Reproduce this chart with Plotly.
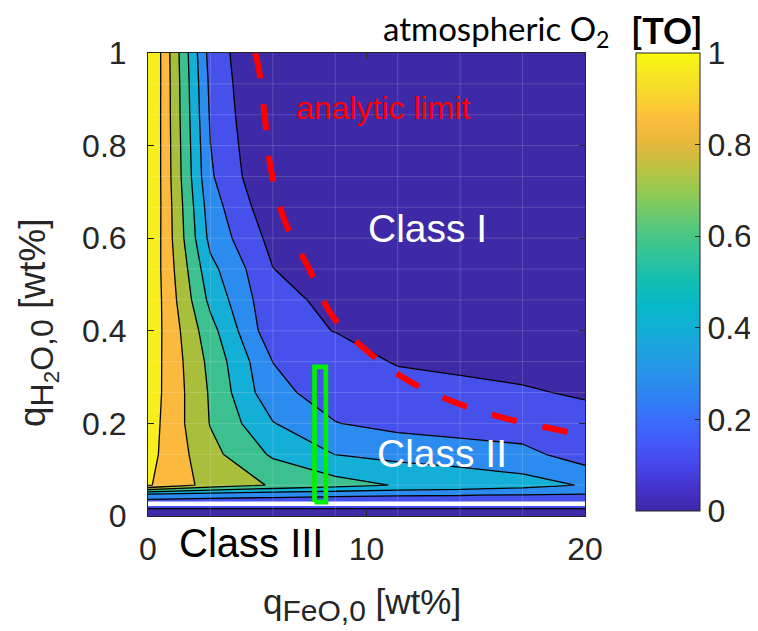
import plotly.graph_objects as go

# ---------------- data ----------------
x_feo = [0, 2.857, 5.714, 8.571, 11.429, 14.286, 17.143, 20]
y_h2o = [0, 0.027, 0.045, 0.0667, 0.1333, 0.2, 0.2667, 0.3333, 0.4, 0.4667,
         0.5333, 0.6, 0.6667, 0.7333, 0.8, 0.8667, 0.9333, 1.0]

o2_y000 = [0.08, 0.08, 0.08, 0.08, 0.08, 0.08, 0.08, 0.08]
o2_y027 = [0.20, 0.20, 0.20, 0.20, 0.20, 0.20, 0.20, 0.20]
o2_y045 = [0.30, 0.28, 0.27, 0.26, 0.255, 0.252, 0.245, 0.24]
o2_y067 = [0.76, 0.614, 0.541, 0.49, 0.443, 0.42, 0.39, 0.342]
o2_y133 = [0.784, 0.58, 0.435, 0.348, 0.32, 0.30, 0.28, 0.199]
o2_y200 = [0.799, 0.545, 0.355, 0.253, 0.22, 0.205, 0.19, 0.185]
o2_y267 = [0.809, 0.538, 0.276, 0.208, 0.19, 0.175, 0.16, 0.139]
o2_y333 = [0.814, 0.522, 0.249, 0.19, 0.143, 0.13, 0.12, 0.11]
o2_y400 = [0.825, 0.487, 0.178, 0.148, 0.12, 0.09, 0.07, 0.06]
o2_y467 = [0.840, 0.424, 0.170, 0.1335, 0.08, 0.05, 0.04, 0.03]
o2_y533 = [0.845, 0.380, 0.152, 0.07, 0.04, 0.03, 0.025, 0.02]
o2_y600 = [0.860, 0.320, 0.118, 0.045, 0.025, 0.02, 0.017, 0.015]
o2_y667 = [0.868, 0.296, 0.076, 0.03, 0.02, 0.016, 0.014, 0.012]
o2_y733 = [0.874, 0.263, 0.041, 0.022, 0.016, 0.013, 0.012, 0.011]
o2_y800 = [0.877, 0.251, 0.028, 0.018, 0.014, 0.012, 0.011, 0.010]
o2_y867 = [0.880, 0.237, 0.020, 0.016, 0.013, 0.011, 0.010, 0.010]
o2_y933 = [0.884, 0.226, 0.015, 0.015, 0.012, 0.010, 0.010, 0.010]
o2_y1000 = [0.888, 0.208, 0.022, 0.015, 0.012, 0.010, 0.010, 0.010]

o2_grid = [o2_y000, o2_y027, o2_y045, o2_y067, o2_y133, o2_y200, o2_y267,
           o2_y333, o2_y400, o2_y467, o2_y533, o2_y600, o2_y667, o2_y733,
           o2_y800, o2_y867, o2_y933, o2_y1000]

# analytic limit curve
limit_x = [4.90, 5.05, 5.35, 5.61, 6.27, 7.39, 8.44, 10.16, 12.15, 14.35, 16.64, 19.06, 19.63]
limit_y = [1.0, 0.972, 0.860, 0.752, 0.636, 0.532, 0.432, 0.351, 0.286, 0.240, 0.2075, 0.183, 0.175]

# green box (selected range)
box_x = [7.62, 8.14, 8.14, 7.62, 7.62]
box_y = [0.03, 0.03, 0.322, 0.322, 0.03]

# white line near the bottom
gap_x = [0, 20]
gap_y = [0.0264, 0.0264]

x_ticks = [0, 10, 20]
y_ticks = [0, 0.2, 0.4, 0.6, 0.8, 1]
y_ticktext = ["0", "0.2", "0.4", "0.6", "0.8", "1"]
cb_ticks = [0, 0.2, 0.4, 0.6, 0.8, 1]
cb_ticktext = ["0", "0.2", "0.4", "0.6", "0.8", "1"]

# ---------------- styles ----------------
parula = [
    [0.00, "#3E26A8"], [0.05, "#4433CB"], [0.10, "#4746EB"], [0.15, "#4259F8"],
    [0.20, "#3A6EFB"], [0.25, "#2F82F2"], [0.30, "#2893EA"], [0.35, "#1FA2E0"],
    [0.40, "#12AFD5"], [0.45, "#05B8C6"], [0.50, "#12BEB3"], [0.55, "#2DC39E"],
    [0.60, "#48C686"], [0.65, "#6DCA6C"], [0.70, "#96CA52"], [0.75, "#BFC241"],
    [0.80, "#E4B83B"], [0.85, "#FBBC3D"], [0.90, "#FAD22F"], [0.95, "#F5E524"],
    [1.00, "#F9FB0E"],
]
band_colors = ["#3E29A6", "#4651EC", "#2C8BEF", "#13AFD6", "#3CC08F",
               "#A9BE3A", "#FBBA3E", "#F7EE1D"]
nb = len(band_colors) - 1
band_scale = []
for i, c in enumerate(band_colors):
    lo = max(0.0, (i - 0.5) / nb)
    hi = min(1.0, (i + 0.5) / nb)
    band_scale.append([lo, c])
    band_scale.append([hi, c])

txt = "#262626"
FONT = "Liberation Sans, Arial, sans-serif"
CAL = "Lato, Carlito, sans-serif"
MESH = "rgba(255,255,255,0.16)"

fig = go.Figure()

# invisible heatmap only used for the continuous colorbar
fig.add_trace(go.Heatmap(
    x=x_feo, y=y_h2o, z=o2_grid, zmin=0, zmax=1, opacity=0,
    colorscale=parula, hoverinfo="skip",
    colorbar=dict(
        x=(636 - 148) / 437, xanchor="left", xpad=0, ypad=0,
        y=1, yanchor="top", len=0.99, lenmode="fraction",
        thickness=64, thicknessmode="pixels",
        outlinecolor=txt, outlinewidth=1,
        tickvals=cb_ticks, ticktext=cb_ticktext,
        ticks="inside", ticklen=5, tickcolor=txt,
        tickfont=dict(family=FONT, size=32, color=txt),
    ),
))

fig.add_trace(go.Contour(
    x=x_feo, y=y_h2o, z=o2_grid,
    contours=dict(start=0.15, end=0.75, size=0.1, coloring="fill", showlines=True),
    colorscale=band_scale, showscale=False,
    line=dict(color="black", width=1.3, smoothing=0),
    hoverinfo="skip",
))

# faint mesh edges of the data grid
for xv in x_feo[1:-1]:
    fig.add_trace(go.Scatter(x=[xv, xv], y=[y_h2o[0], y_h2o[-1]], mode="lines",
                             line=dict(color=MESH, width=1), hoverinfo="skip",
                             showlegend=False))
for yv in y_h2o[3:-1]:
    fig.add_trace(go.Scatter(x=[x_feo[0], x_feo[-1]], y=[yv, yv], mode="lines",
                             line=dict(color=MESH, width=1), hoverinfo="skip",
                             showlegend=False))

fig.add_trace(go.Scatter(x=gap_x, y=gap_y, mode="lines",
                         line=dict(color="white", width=4.5), hoverinfo="skip",
                         showlegend=False))
fig.add_trace(go.Scatter(x=box_x, y=box_y, mode="lines",
                         line=dict(color="#00F000", width=4.7), hoverinfo="skip",
                         showlegend=False))
fig.add_trace(go.Scatter(x=limit_x, y=limit_y, mode="lines",
                         line=dict(color="#FF0000", width=6, dash="26px,26px", shape="spline"),
                         hoverinfo="skip", showlegend=False))


def note(x, y, text, size, color, family=FONT, ref="data", angle=0):
    d = dict(x=x, y=y, text=text, showarrow=False, xanchor="center", yanchor="middle",
             textangle=angle, borderpad=0, font=dict(family=family, size=size, color=color))
    if ref == "data":
        d.update(xref="x", yref="y")
    else:
        d.update(xref="paper", yref="paper")
    return d


ann = [
    note(10.76, 0.882, "analytic limit", 32, "#FF0000"),
    note(12.77, 0.62, "Class I", 39, "white"),
    note(13.45, 0.136, "Class II", 39, "white"),
    note((251 - 148) / 437, (516 - 543) / 463, "Class III", 40, "black", ref="paper"),
    note((362 - 148) / 437, (516 - 604) / 463,
         "q<sub><span style='font-size:30px'>FeO,0</span></sub> [wt%]", 35, txt, ref="paper"),
    note((38 - 148) / 437, (516 - 323) / 463,
         "q<sub><span style='font-size:32px'>H<sub>2</sub>O,0</span></sub> [wt%]", 37, txt,
         ref="paper", angle=-90),
    note((496 - 148) / 437, (516 - 30) / 463, "atmospheric O<sub>2</sub>", 33, "black",
         family=CAL, ref="paper"),
    note((667 - 148) / 437, (516 - 30) / 463, "<b>[TO]</b>", 36, "black",
         family=CAL, ref="paper"),
]

# the page body adds an 8 px offset, so the figure is 8 px smaller
fig.update_layout(
    width=750, height=623,
    margin=dict(l=140, r=173, t=45, b=115, autoexpand=False),
    paper_bgcolor="white", plot_bgcolor="white",
    showlegend=False,
    annotations=ann,
    xaxis=dict(range=[0, 20], tickvals=x_ticks, ticks="inside", ticklen=6,
               tickcolor=txt, showline=True, linecolor=txt, linewidth=1,
               mirror="ticks", showgrid=False, zeroline=False, ticklabelstandoff=5,
               automargin=False,
               tickfont=dict(family=FONT, size=32, color=txt)),
    yaxis=dict(range=[0, 1], tickvals=y_ticks, ticktext=y_ticktext, ticks="inside",
               ticklen=6, tickcolor=txt, showline=True, linecolor=txt, linewidth=1,
               mirror="ticks", showgrid=False, zeroline=False, ticklabelstandoff=14,
               automargin=False,
               tickfont=dict(family=FONT, size=32, color=txt)),
)

fig.write_html("out.html")
